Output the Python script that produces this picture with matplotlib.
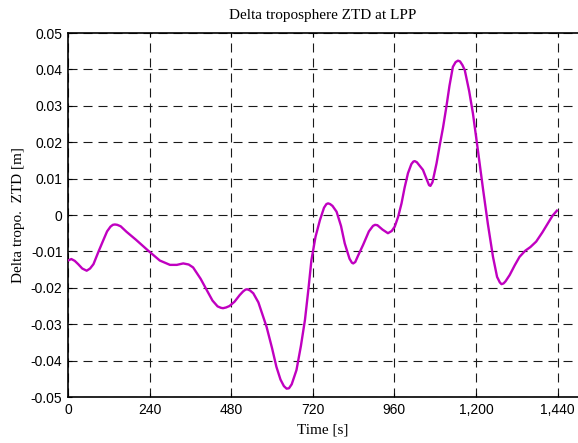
import matplotlib
matplotlib.use("Agg")
import matplotlib.pyplot as plt
from matplotlib.ticker import FuncFormatter

# Time stamps [s] and tropospheric ZTD difference [m]
time_s = [0, 10, 20, 30, 42, 55, 65, 75, 90, 104, 115, 125, 132, 138, 145, 155,
          172, 200, 236, 270, 300, 320, 339, 355, 368, 390, 408, 425, 440, 450,
          456, 465, 475, 490, 505, 515, 522, 527, 535, 545, 560, 584, 600, 613,
          625, 635, 643, 650, 658, 672, 685, 697, 707, 716, 728, 741, 753, 760,
          765, 771, 778, 790, 803, 814, 828, 835, 839, 845, 853, 868, 885, 897,
          903, 910, 925, 941, 952, 961, 971, 981, 990, 1000, 1010, 1016, 1020,
          1026, 1032, 1044, 1055, 1062, 1066, 1072, 1084, 1093, 1103, 1113, 1122,
          1132, 1140, 1147, 1153, 1160, 1167, 1180, 1191, 1206, 1221, 1235, 1250,
          1262, 1270, 1275, 1281, 1287, 1299, 1314, 1328, 1345, 1360, 1377, 1395,
          1410, 1425, 1438]
dztd = [-0.0125, -0.0121, -0.0126, -0.0135, -0.0147, -0.0153, -0.0147, -0.0135,
        -0.0100, -0.0069, -0.0045, -0.0032, -0.0027, -0.0026, -0.0027, -0.0031,
        -0.0046, -0.0068, -0.0098, -0.0125, -0.0137, -0.0137, -0.0133, -0.0136,
        -0.0144, -0.0175, -0.0206, -0.0235, -0.0251, -0.0255, -0.0256, -0.0254,
        -0.0250, -0.0238, -0.0220, -0.0210, -0.0205, -0.0204, -0.0207, -0.0215,
        -0.0240, -0.0307, -0.0365, -0.0417, -0.0452, -0.0470, -0.0477, -0.0476,
        -0.0465, -0.0426, -0.0360, -0.0288, -0.0205, -0.0124, -0.0060, -0.0014,
        0.0020, 0.0030, 0.0032, 0.0030, 0.0025, 0.0009, -0.0030, -0.0078,
        -0.0120, -0.0131, -0.0133, -0.0129, -0.0112, -0.0082, -0.0045, -0.0030,
        -0.0027, -0.0028, -0.0040, -0.0050, -0.0044, -0.0032, -0.0005, 0.0032,
        0.0075, 0.0115, 0.0140, 0.0147, 0.0148, 0.0145, 0.0138, 0.0124, 0.0098,
        0.0082, 0.0080, 0.0090, 0.0142, 0.0190, 0.0240, 0.0298, 0.0355, 0.0407,
        0.0420, 0.0424, 0.0422, 0.0412, 0.0398, 0.0340, 0.0279, 0.0175, 0.0069,
        -0.0025, -0.0115, -0.0170, -0.0185, -0.0190, -0.0188, -0.0182, -0.0165,
        -0.0138, -0.0115, -0.0098, -0.0088, -0.0073, -0.0048, -0.0025, -0.0002,
        0.0012]

x_ticks = [0, 240, 480, 720, 960, 1200, 1440]
y_ticks = [-0.05, -0.04, -0.03, -0.02, -0.01, 0, 0.01, 0.02, 0.03, 0.04, 0.05]

plt.rcParams['lines.scale_dashes'] = False

fig = plt.figure(figsize=(5.78, 4.43), dpi=100)
ax = fig.add_axes([0.1176, 0.1038, 0.8824, 0.8217])

ax.plot(time_s, dztd, color='#C000C0', lw=1.7, zorder=3,
        solid_joinstyle='round')

ax.set_xlim(0, 1500)
ax.set_ylim(-0.05, 0.05)
ax.set_xticks(x_ticks)
ax.set_yticks(y_ticks)
ax.xaxis.set_major_formatter(FuncFormatter(lambda v, p: f"{int(v):,}"))
ax.yaxis.set_major_formatter(FuncFormatter(lambda v, p: "0" if abs(v) < 1e-12 else f"{v:.2f}"))

ax.grid(True, color='#1a1a1a', lw=0.8, linestyle=(0, (6.5, 4.3)))
ax.tick_params(direction='in', length=3, width=0.8, top=True, labelsize=10,
               colors='black', pad=4)
for lab in ax.get_xticklabels() + ax.get_yticklabels():
    lab.set_family('Liberation Sans')
ax.spines['right'].set_visible(False)
for s in ['left', 'bottom', 'top']:
    ax.spines[s].set_linewidth(1.2)

ax.set_title('Delta troposphere ZTD at LPP', family='Liberation Serif',
             fontsize=11, pad=10)
ax.set_xlabel('Time [s]', family='Liberation Serif', fontsize=11, labelpad=5)
ax.set_ylabel('Delta tropo.  ZTD [m]', family='Liberation Serif', fontsize=11,
              labelpad=4)

fig.savefig('out.png', dpi=100)
